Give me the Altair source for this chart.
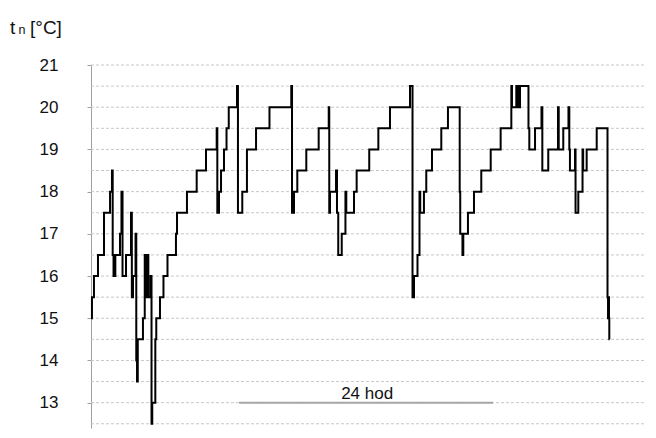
import altair as alt
import pandas as pd

# time since start [h] and indoor temperature t_n [°C] (step series)
hours = [0.00, 0.09, 0.28, 0.66, 1.23, 1.80, 1.98, 2.05, 2.13, 2.30, 2.74, 2.88, 2.98, 3.31,
         3.78, 3.86, 3.97, 4.21, 4.28, 4.35, 4.42, 4.91, 5.08, 5.13, 5.32, 5.42, 5.62, 5.72,
         5.79, 6.08, 6.17, 6.52, 6.85, 7.23, 8.03, 8.13, 9.07, 9.99, 10.87, 11.88, 11.94,
         12.10, 12.29, 12.57, 12.81, 13.02, 13.80, 13.89, 14.30, 14.74, 15.60, 16.87, 18.93,
         19.00, 19.19, 19.50, 20.35, 21.52, 22.47, 22.52, 22.59, 23.16, 23.25, 23.37, 23.70,
         24.05, 24.13, 24.86, 25.11, 26.30, 27.16, 28.26, 30.15, 30.39, 30.53, 30.86, 31.05,
         31.12, 31.47, 31.69, 32.23, 33.11, 33.74, 34.85, 34.90, 35.11, 35.19, 35.63, 36.20,
         36.89, 37.78, 38.72, 39.73, 39.79, 40.20, 40.26, 40.36, 40.45, 40.55, 41.35, 41.43,
         41.97, 42.58, 42.66, 43.22, 44.14, 44.21, 44.64, 45.13, 45.21, 45.27, 45.75, 45.80,
         46.06, 46.46, 46.52, 46.85, 47.80, 48.82, 48.87, 48.91, 48.96, 48.99, 49.02]
temps = [15.0, 15.5, 16.0, 16.5, 17.5, 18.0, 18.5, 16.5, 16.0, 16.5, 17.0, 18.0, 16.0, 16.5,
         17.5, 15.5, 16.0, 17.0, 14.0, 13.5, 14.5, 15.0, 16.5, 15.5, 16.5, 15.5, 16.0, 12.5,
         13.0, 14.5, 15.0, 15.5, 16.0, 16.5, 17.0, 17.5, 18.0, 18.5, 19.0, 19.5, 17.5,
         18.0, 18.5, 19.0, 19.5, 20.0, 20.5, 17.5, 18.0, 19.0, 19.5, 20.0, 20.5,
         17.5, 18.0, 18.5, 19.0, 19.5, 20.0, 17.5, 18.0, 18.5, 17.5, 16.5, 17.0,
         18.0, 17.5, 18.0, 18.5, 19.0, 19.5, 20.0, 20.5, 15.5, 16.0, 16.5, 18.0,
         17.5, 18.0, 18.5, 19.0, 19.5, 20.0, 18.0, 17.0, 16.5, 17.0, 17.5, 18.0,
         18.5, 19.0, 19.5, 20.5, 20.0, 20.5, 20.0, 20.5, 20.0, 20.5, 19.5, 19.0,
         19.5, 20.0, 18.5, 19.0, 20.0, 19.0, 19.5, 20.0, 19.0, 18.5, 19.0, 17.5,
         18.0, 19.0, 18.5, 19.0, 19.5, 15.5, 15.0, 15.5, 15.0, 14.5, 14.5]

grid_levels = [12.5, 13.0, 13.5, 14.0, 14.5, 15.0, 15.5, 16.0, 16.5, 17.0, 17.5,
               18.0, 18.5, 19.0, 19.5, 20.0, 20.5, 21.0]
tick_values = [13, 14, 15, 16, 17, 18, 19, 20, 21]

span_start = [14.0]
span_end = [38.0]
span_level = [13.0]
span_label = ["24 hod"]
span_mid = [26.1]

df = pd.DataFrame({"h": hours, "t": temps})
grid_df = pd.DataFrame({"g": grid_levels})
span_df = pd.DataFrame({"a": span_start, "b": span_end, "y": span_level,
                        "label": span_label, "m": span_mid})

FONT = "Liberation Sans"
y_scale = alt.Scale(domain=[12.4, 21], nice=False, zero=False)
x_scale = alt.Scale(domain=[0, 52.27], nice=False, zero=False)
y_axis = alt.Axis(values=tick_values, grid=False, title=None, domainColor="#a0a0a0",
                  tickColor="#a0a0a0", tickSize=4, labelFontSize=17, labelFont=FONT,
                  labelColor="#111111", labelPadding=29)

grid = alt.Chart(grid_df).mark_rule(color="#c8c8c8", strokeDash=[3, 2], strokeWidth=1).encode(
    y=alt.Y("g:Q", scale=y_scale, axis=y_axis)
)

line = alt.Chart(df).mark_line(interpolate="step-after", color="black", strokeWidth=2).encode(
    x=alt.X("h:Q", scale=x_scale, axis=None),
    y=alt.Y("t:Q", scale=y_scale, axis=y_axis),
)

span = alt.Chart(span_df).mark_rule(color="#a6a6a6", strokeWidth=2).encode(
    x=alt.X("a:Q", scale=x_scale, axis=None),
    x2="b:Q",
    y=alt.Y("y:Q", scale=y_scale, axis=y_axis),
)

span_text = alt.Chart(span_df).mark_text(font=FONT, fontSize=17, color="#111111",
                                          baseline="alphabetic", align="center", dy=-4).encode(
    x=alt.X("m:Q", scale=x_scale, axis=None),
    y=alt.Y("y:Q", scale=y_scale, axis=y_axis),
    text="label:N",
)

title_t = alt.Chart(pd.DataFrame({"s": ["t"]})).mark_text(
    font=FONT, fontSize=19, color="#111111", align="left", baseline="alphabetic"
).encode(x=alt.value(-81), y=alt.value(-31), text="s:N")
title_n = alt.Chart(pd.DataFrame({"s": ["n"]})).mark_text(
    font=FONT, fontSize=12.5, color="#111111", align="left", baseline="alphabetic"
).encode(x=alt.value(-72.5), y=alt.value(-31), text="s:N")
title_u = alt.Chart(pd.DataFrame({"s": ["[°C]"]})).mark_text(
    font=FONT, fontSize=19, color="#111111", align="left", baseline="alphabetic"
).encode(x=alt.value(-61), y=alt.value(-31), text="s:N")

chart = alt.layer(grid, span, line, span_text, title_t, title_n, title_u).properties(
    width=553, height=363,
    padding={"left": 83, "top": 57, "right": 4, "bottom": 2},
    autosize="none",
).configure_view(stroke=None)

chart.save("out.html", embed_options={"renderer": "svg", "actions": False})
